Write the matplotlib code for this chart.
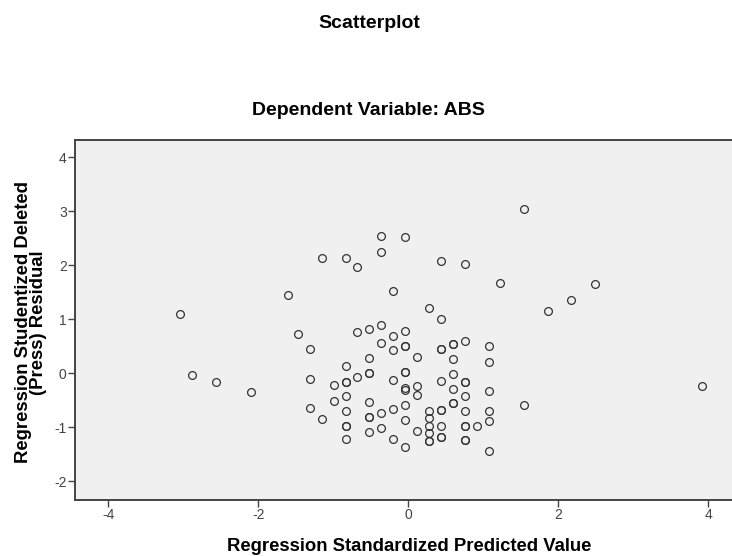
import matplotlib
matplotlib.use('Agg')
import matplotlib.pyplot as plt

plt.rcParams['font.family'] = ['Liberation Sans', 'DejaVu Sans']
plt.rcParams['axes.unicode_minus'] = False

# standardized predicted value / studentized deleted residual
pred = [-3.05, -2.89, -2.57, -2.10, -1.60, 1.54, 1.22, 1.86, 2.17, 2.49, 1.54, 3.91,
        -1.15, -0.83, -0.68, -0.36, -0.36, -0.04, 0.44, 0.75, -0.20, 0.28, 0.44,
        -1.47, -0.68, -0.52, -0.36, -0.20, -0.04, -1.31, -0.36, -0.20, -0.04, -0.04,
        0.44, 0.44, 0.59, 0.59, 0.75, 1.07, -0.52, 0.12, 0.59, 1.07, -0.83,
        -1.31, -0.99, -0.83, -0.83, -0.68, -0.52, -0.52, -0.20, -0.04, -0.04,
        -0.04, -0.04, 0.12, 0.12, 0.44, 0.59, 0.59, 0.75, 0.75, 0.75, 1.07,
        -0.99, -0.83, -0.52, -0.04, 0.59, 0.59,
        -1.31, -1.15, -0.83, -0.83, -0.83, -0.83, -0.52, -0.52, -0.52, -0.36, -0.36,
        -0.20, -0.20, -0.04, -0.04, 0.12, 0.28, 0.28, 0.28, 0.28, 0.28, 0.28,
        0.44, 0.44, 0.44, 0.44, 0.44, 0.75, 0.75, 0.75, 0.75, 0.75, 0.91,
        1.07, 1.07, 1.07]
resid = [1.10, -0.03, -0.16, -0.35, 1.45, 3.05, 1.68, 1.16, 1.36, 1.65, -0.58, -0.24,
         2.14, 2.13, 1.97, 2.55, 2.25, 2.53, 2.08, 2.02, 1.53, 1.21, 1.01,
         0.74, 0.76, 0.82, 0.90, 0.70, 0.78, 0.45, 0.56, 0.44, 0.51, 0.51,
         0.46, 0.46, 0.55, 0.55, 0.61, 0.50, 0.28, 0.31, 0.27, 0.21, 0.14,
         -0.10, -0.22, -0.15, -0.15, -0.06, 0.01, 0.01, -0.12, 0.02, 0.02,
         -0.26, -0.31, -0.23, -0.40, -0.14, -0.01, -0.28, -0.15, -0.15, -0.42, -0.33,
         -0.51, -0.42, -0.53, -0.58, -0.55, -0.55,
         -0.64, -0.84, -0.69, -0.97, -0.97, -1.21, -0.81, -0.81, -1.09, -0.73, -1.01,
         -0.66, -1.22, -0.86, -1.36, -1.06, -0.70, -0.83, -0.98, -1.11, -1.25, -1.25,
         -0.68, -0.68, -0.97, -1.18, -1.18, -0.69, -0.97, -0.97, -1.24, -1.24, -0.97,
         -0.70, -0.88, -1.44]

xticks = [-4, -2, 0, 2, 4]
yticks = [-2, -1, 0, 1, 2, 3, 4]

fig = plt.figure(figsize=(7.32, 5.56), dpi=100)
ax = fig.add_axes([0.1025, 0.1007, 0.9085, 0.6475])
ax.set_facecolor('#f0f0f0')

ax.plot(pred, resid, 'o', ms=5.6, mfc='none', mec='#333333', mew=0.9)

ax.set_xlim(-4.444, 4.423)
ax.set_ylim(-2.343, 4.324)
ax.set_xticks(xticks)
ax.set_yticks(yticks)
ax.tick_params(direction='out', length=5, width=1, color='#444444',
               labelcolor='#444444', labelsize=10, pad=1)

for side in ['left', 'bottom', 'top']:
    ax.spines[side].set_color('#444444')
    ax.spines[side].set_linewidth(1.4)
ax.spines['right'].set_visible(False)

fig.text(0.504, 0.949, 'Scatterplot', ha='center', va='baseline',
         fontsize=14, fontweight='bold')
fig.text(0.504, 0.793, 'Dependent Variable: ABS', ha='center', va='baseline',
         fontsize=14, fontweight='bold')
fig.text(0.5594, 0.009, 'Regression Standardized Predicted Value', ha='center',
         va='baseline', fontsize=13.3, fontweight='bold')
fig.text(0.042, 0.42, 'Regression Studentized Deleted\n(Press) Residual',
         rotation=90, ha='center', va='center', multialignment='center',
         fontsize=13.3, fontweight='bold', linespacing=0.85)

fig.savefig('out.png', dpi=100)
